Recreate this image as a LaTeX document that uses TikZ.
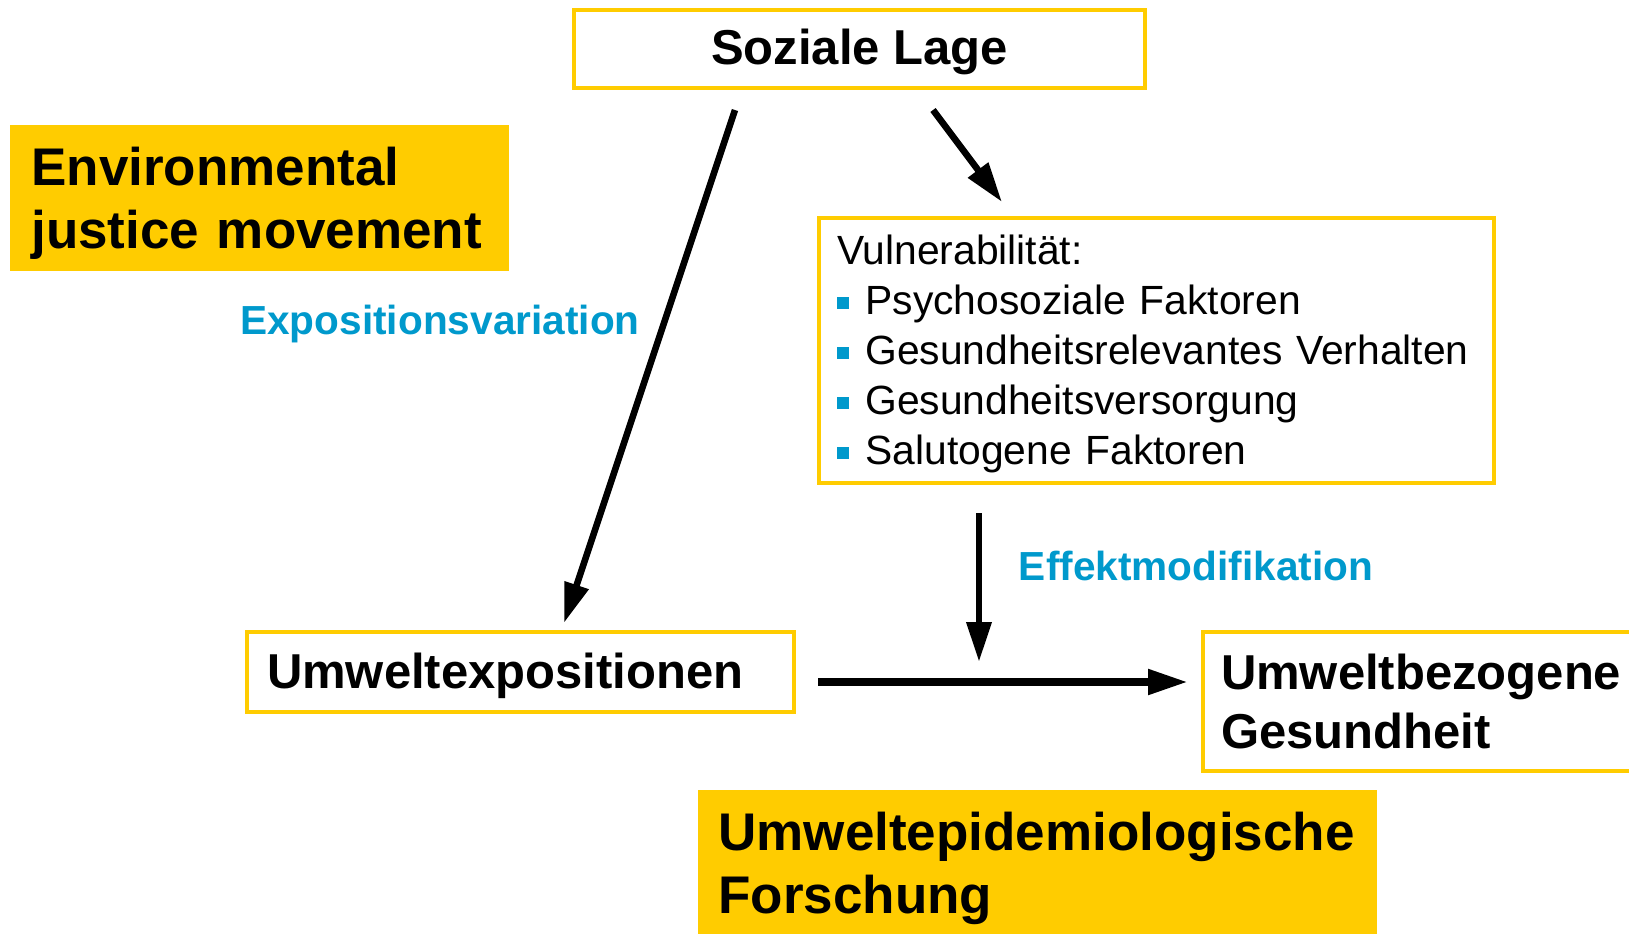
\documentclass[tikz,border=0pt]{standalone}
\usepackage{fontspec}
\setmainfont{Liberation Sans}[Ligatures=NoCommon]
\usetikzlibrary{arrows.meta,calc}
\definecolor{ylw}{HTML}{FFCC00}
\definecolor{ebl}{HTML}{0099CC}
\newcommand{\sqbul}{\textcolor{ebl}{\rule[2.5pt]{6.2pt}{6.2pt}}\hspace{8pt}}
\begin{document}
\begin{tikzpicture}[x=0.5pt,y=-0.5pt,
  ybox/.style={draw=ylw, line width=2pt, fill=white, inner sep=0pt, anchor=north west},
  yfill/.style={fill=ylw, inner sep=0pt, anchor=north west},
  bigtxt/.style={font=\fontsize{24.5}{29.5}\selectfont\bfseries},
  hugetxt/.style={font=\fontsize{26.5}{31.5}\selectfont\bfseries},
  lbl/.style={font=\fontsize{20.3}{24}\selectfont\bfseries, text=ebl, inner sep=0pt},
  arr/.style={-{Triangle[length=20pt,width=12pt]}, line width=3.3pt}
]
\useasboundingbox (0,0) rectangle (1629,933);
\clip (0,0) rectangle (1629,933);

\node[ybox, bigtxt, minimum width=285.5pt, minimum height=39pt] (soz) at (572,8) {\rule{0pt}{20.5pt}Soziale Lage};

\node[yfill, hugetxt, minimum width=249.5pt, minimum height=73pt, text width=228.5pt, inner xsep=10.5pt, align=left] (ejm) at (10,125) {\rule{0pt}{24.2pt}Environmental\\justice movement};

\node[ybox, minimum width=337.5pt, minimum height=132.5pt, text width=319.5pt, inner xsep=9pt, align=left, font=\fontsize{20.4}{25}\selectfont] (vul) at (817,216) {\rule{0pt}{18pt}Vulnerabilität:\\\sqbul Psychosoziale Faktoren\\\sqbul Gesundheitsrelevantes Verhalten\\\sqbul Gesundheitsversorgung\\\sqbul Salutogene Faktoren};

\node[ybox, bigtxt, minimum width=273.5pt, minimum height=40pt, text width=253.5pt, inner xsep=10pt, align=left] (exp) at (245,630) {\rule{0pt}{21.7pt}Umweltexpositionen};

\node[ybox, bigtxt, minimum width=240pt, minimum height=69.5pt, text width=222pt, inner xsep=9pt, align=left] (ges) at (1201,630) {Umweltbezogene\\Gesundheit};

\node[yfill, hugetxt, minimum width=339.5pt, minimum height=75pt, text width=319.5pt, inner xsep=10pt, align=left] (uf) at (698,790) {\rule{0pt}{22.6pt}Umweltepidemiologische\\Forschung};

\node[lbl] (expv) at (440,324) {Expositionsvariation};
\node[lbl] (eff) at (1196,566) {Effektmodifikation};

\coordinate (a1s) at ($(soz.south west)+(163,20)$);
\coordinate (a1e) at ($(exp.north west)+(319,-7)$);
\coordinate (a2s) at ($(soz.south west)+(361,20)$);
\coordinate (a2e) at ($(vul.north west)+(185,-14)$);
\coordinate (a3s) at ($(exp.east)+(22,10)$);
\coordinate (a3e) at ($(ges.west)+(-13,-19.5)$);
\coordinate (a4s) at ($(vul.south west)+(162,28)$);
\coordinate (a4e) at ($(vul.south west)+(162,177)$);

\draw[arr] (a1s) -- (a1e);
\draw[arr] (a2s) -- (a2e);
\draw[arr, line width=4pt] (a3s) -- (a3e);
\draw[arr] (a4s) -- (a4e);
\end{tikzpicture}
\end{document}
